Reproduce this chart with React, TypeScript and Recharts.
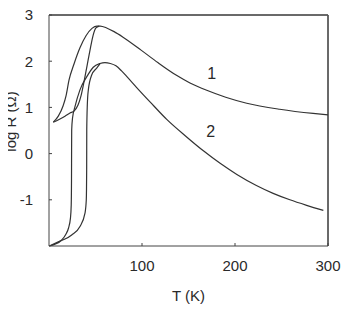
import React from "react";
import { LineChart, Line, XAxis, YAxis, CartesianGrid, ReferenceLine, ReferenceDot, Label } from "recharts";

// log R (Ω) vs T (K), two samples, each with a low-temperature hysteresis loop
const sample1Outer: [number, number][] = [
  [4.6, 0.68], [10, 0.81], [15.1, 1.03], [18.3, 1.25], [21.5, 1.59], [26.9, 1.94],
  [33.3, 2.29], [39.8, 2.55], [46.2, 2.71], [51.6, 2.76], [55, 2.76], [62, 2.72],
  [70, 2.64], [79.6, 2.52], [99, 2.24], [117, 1.97], [136.6, 1.7], [151.6, 1.53],
  [169.6, 1.37], [190, 1.22], [212.6, 1.09], [248, 0.96], [284, 0.87], [300, 0.84],
];
const sample1Inner: [number, number][] = [
  [4.6, 0.68], [11.8, 0.75], [17.2, 0.81], [22.6, 0.88], [26.9, 0.92], [31.2, 1.05],
  [34.4, 1.25], [37.6, 1.55], [40.9, 1.9], [44.1, 2.24], [47.3, 2.55], [50.5, 2.72],
  [54, 2.76],
];
const sample2Outer: [number, number][] = [
  [0.3, -2], [6.5, -1.96], [13.7, -1.87], [18.3, -1.74], [21, -1.61], [23.1, -1.39],
  [23.9, -1.11], [24.2, -0.57], [24.3, 0.08], [24.4, 0.51], [25.3, 0.77], [28, 1.02],
  [33.3, 1.38], [40.5, 1.66], [47.6, 1.87], [54.8, 1.95], [60.2, 1.97], [66, 1.95],
  [72, 1.9], [78, 1.79], [84, 1.66], [94.3, 1.43], [108.6, 1.12], [126.6, 0.74],
  [148, 0.36], [166, 0.06], [184, -0.21], [202, -0.45], [223, -0.69], [241, -0.86],
  [259, -1.0], [277, -1.12], [295, -1.23],
];
const sample2Inner: [number, number][] = [
  [0.3, -2], [10, -1.91], [17.2, -1.85], [24.4, -1.76], [33.3, -1.58], [38.7, -1.29],
  [40.1, -1.0], [40.5, -0.35], [40.6, 0.51], [41.2, 1.05], [42.3, 1.38], [45.9, 1.7],
  [51.3, 1.85], [54.8, 1.94],
];

const xTicks = [100, 200, 300];
const yTicks = [-1, 0, 1, 2, 3];
const frameX = [300];
const frameY = [3];
const curveLabels = [
  { name: "1", T: 175, v: 1.74 },
  { name: "2", T: 174, v: 0.49 },
];

const toRows = (pts: [number, number][]) => pts.map(([T, v]) => ({ T, v }));

const FONT = "'Liberation Sans', Arial, sans-serif";
const INK = "#2a2a2a";
const tickStyle = { fontSize: 15, fill: INK, fontFamily: FONT };
const titleStyle = { fontSize: 15, fill: INK, fontFamily: FONT, textAnchor: "middle" as const };

const lineProps = { dataKey: "v", type: "monotone" as const, stroke: "#333", strokeWidth: 1.2, dot: false, isAnimationActive: false };

export default function App() {
  return (
    <div style={{ margin: "-8px 0 0 -8px" }}>
      <LineChart width={363} height={309} margin={{ top: 15, right: 35, left: 18, bottom: 33 }}>
        {/* top and right edges of the frame */}
        <CartesianGrid stroke="#555" strokeWidth={1} horizontalValues={frameY} verticalValues={frameX} />
        <XAxis
          dataKey="T" type="number" domain={[0, 300]} ticks={xTicks}
          tickSize={-3} tickMargin={17} tick={tickStyle}
          stroke="#444" height={30}
        >
          <Label value="T (K)" position="bottom" offset={14} style={titleStyle} />
        </XAxis>
        <YAxis
          type="number" domain={[-2, 3]} ticks={yTicks}
          tickSize={-3} tickMargin={19} tick={tickStyle}
          stroke="#444" width={31}
        >
          <Label value="log R (Ω)" angle={-90} position="insideLeft" offset={-7} dy={-9} style={titleStyle} />
        </YAxis>
        <ReferenceLine y={3} stroke="#555" strokeWidth={1.5} ifOverflow="visible" />
        <ReferenceLine x={300} stroke="#555" strokeWidth={1.5} ifOverflow="visible" />
        <Line {...lineProps} data={toRows(sample1Outer)} />
        <Line {...lineProps} data={toRows(sample1Inner)} />
        <Line {...lineProps} data={toRows(sample2Outer)} />
        <Line {...lineProps} data={toRows(sample2Inner)} />
        {curveLabels.map((c) => (
          <ReferenceDot key={c.name} x={c.T} y={c.v} r={0} stroke="none" fill="none">
            <Label value={c.name} position="center" style={{ fontSize: 16, fill: INK, fontFamily: FONT }} />
          </ReferenceDot>
        ))}
      </LineChart>
    </div>
  );
}
